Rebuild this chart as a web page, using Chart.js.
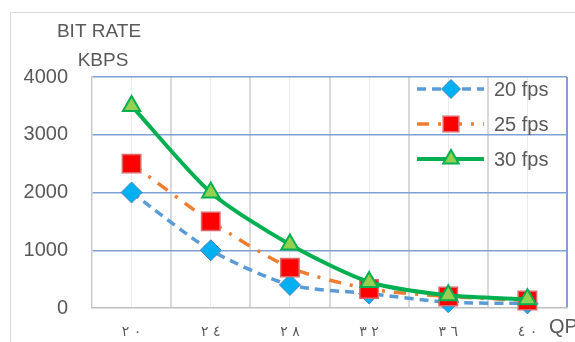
<!DOCTYPE html>
<html>
<head>
<meta charset="utf-8">
<script src="https://cdn.jsdelivr.net/npm/chart.js@4/dist/chart.umd.min.js"></script>
<style>
  html, body { margin: 0; padding: 0; background: #fff; overflow: hidden; }
  #frame { position: absolute; left: 10px; top: 12px; width: 600px; height: 400px; border: 1px solid #D9D9D9; }
  #wrap { position: absolute; left: 0; top: 0; width: 575px; height: 342px; }
</style>
</head>
<body>
<div id="frame"></div>
<div id="wrap"><canvas id="c" width="575" height="342"></canvas></div>
<script>
// QP values on the horizontal axis and their printed labels (digits kept in one number run)
const qpValues = [20, 24, 28, 32, 36, 40];
const qpLabels = ['٢\u00A0٠', '٢\u00A0٤', '٢\u00A0٨', '٣\u00A0٢', '٣\u00A0٦', '٤\u00A0٠'];

// Bit rate (kbps) per frame rate
const rate20fps = [2000, 1000, 400, 250, 100, 80];
const rate25fps = [2500, 1500, 700, 330, 200, 130];
const rate30fps = [3500, 2000, 1100, 450, 220, 150];

const seriesNames = ['20 fps', '25 fps', '30 fps'];
const yTicks = [0, 1000, 2000, 3000, 4000];

const TEXT = '#595959';
const FONT = "'Liberation Sans', Arial, sans-serif";

const toPoints = vals => qpValues.map((q, i) => ({ x: q, y: vals[i] }));

const datasets = [
  {
    label: seriesNames[0], data: toPoints(rate20fps), order: 2,
    borderColor: '#5B9BD5', borderWidth: 3.5, borderDash: [9, 6], tension: 0.25,
    pointStyle: 'rectRot', pointRadius: 10.5, pointBackgroundColor: '#00B0F0',
    pointBorderColor: '#4F81BD', pointBorderWidth: 1, clip: false, legendRadius: 9.5
  },
  {
    label: seriesNames[1], data: toPoints(rate25fps), order: 1,
    borderColor: '#ED7D31', borderWidth: 3.5, borderDash: [12, 9, 3, 9], tension: 0.25,
    pointStyle: 'rect', pointRadius: 13, pointBackgroundColor: '#FF0000',
    pointBorderColor: '#D9696B', pointBorderWidth: 1.5, clip: false, legendRadius: 11
  },
  {
    label: seriesNames[2], data: toPoints(rate30fps), order: 0,
    borderColor: '#00B050', borderWidth: 4, tension: 0.25,
    pointStyle: 'triangle', pointRadius: 10, pointBackgroundColor: '#92D050',
    pointBorderColor: '#00B050', pointBorderWidth: 2, clip: false, legendRadius: 9
  }
];

// Legend inside the plot, top-right, plus the axis captions
const decorations = {
  id: 'decorations',
  afterDraw(chart) {
    const ctx = chart.ctx;
    ctx.save();
    const rows = [89, 124, 159];
    datasets.forEach((ds, i) => {
      const y = rows[i];
      ctx.strokeStyle = ds.borderColor;
      ctx.lineWidth = ds.borderWidth;
      ctx.setLineDash(ds.borderDash || []);
      ctx.beginPath();
      ctx.moveTo(417, y);
      ctx.lineTo(484, y);
      ctx.stroke();
      ctx.setLineDash([]);
      ctx.fillStyle = ds.pointBackgroundColor;
      ctx.strokeStyle = ds.pointBorderColor;
      ctx.lineWidth = ds.pointBorderWidth;
      Chart.helpers.drawPoint(ctx, {
        pointStyle: ds.pointStyle,
        radius: ds.legendRadius,
        borderWidth: ds.pointBorderWidth,
        rotation: 0
      }, 451, y);
      ctx.fillStyle = TEXT;
      ctx.font = '20px ' + FONT;
      ctx.textAlign = 'left';
      ctx.textBaseline = 'middle';
      ctx.fillText(ds.label, 494, y + 1);
    });

    ctx.fillStyle = TEXT;
    ctx.font = '19px ' + FONT;
    ctx.textAlign = 'center';
    ctx.textBaseline = 'middle';
    ctx.fillText('BIT RATE', 99, 32);
    ctx.fillText('KBPS', 103, 61);
    ctx.textAlign = 'left';
    ctx.font = '20px ' + FONT;
    ctx.fillText('QP', 549, 327);
    ctx.restore();
  }
};

new Chart(document.getElementById('c'), {
  type: 'line',
  data: { datasets },
  plugins: [decorations],
  options: {
    responsive: false,
    animation: false,
    layout: { autoPadding: false, padding: { top: 77, right: 8, left: 0, bottom: 0 } },
    plugins: { legend: { display: false }, tooltip: { enabled: false } },
    scales: {
      x: {
        type: 'linear', min: 18, max: 42,
        afterFit: s => { s.height = 34; s.paddingLeft = 0; s.paddingRight = 0; },
        afterBuildTicks: s => { s.ticks = []; for (let v = 18; v <= 42; v += 2) s.ticks.push({ value: v }); },
        ticks: {
          autoSkip: false, padding: 16, color: TEXT,
          font: { family: "'DejaVu Sans', sans-serif", size: 14 },
          maxRotation: 0,
          callback: v => { const i = qpValues.indexOf(v); return i >= 0 ? qpLabels[i] : ''; }
        },
        grid: {
          drawTicks: false,
          color: c => {
            const v = c.tick && c.tick.value;
            if (v === 18) return 'rgba(0,0,0,0)';
            if (v === 42) return '#7F9FD6';
            return v % 4 === 0 ? '#EAEAEA' : '#D9D9D9';
          },
          lineWidth: c => (c.tick && c.tick.value % 4 === 0) ? 1 : 2
        },
        border: { color: '#BFBFBF', width: 1.5 }
      },
      y: {
        min: 0, max: 4000,
        afterFit: s => { s.width = 92; s.paddingTop = 0; s.paddingBottom = 0; },
        afterBuildTicks: s => { s.ticks = yTicks.map(v => ({ value: v })); },
        ticks: { padding: 24, color: TEXT, font: { family: FONT, size: 20 }, callback: v => String(v) },
        grid: {
          drawTicks: false,
          color: c => (c.tick && c.tick.value === 0) ? 'rgba(0,0,0,0)' : '#7F9FD6',
          lineWidth: 1.5
        },
        border: { color: '#C8C8C8', width: 1.5 }
      }
    }
  }
});
</script>
</body>
</html>
